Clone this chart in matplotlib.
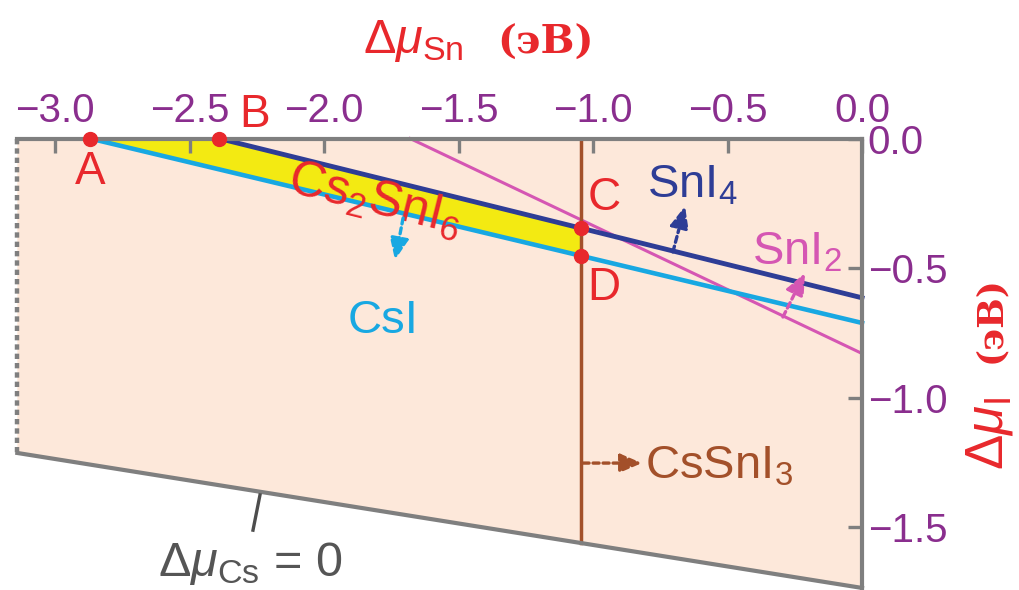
import numpy as np
import matplotlib
matplotlib.use("Agg")
from matplotlib import pyplot as plt

plt.rcParams['font.family'] = ['Liberation Sans', 'DejaVu Sans']
plt.rcParams['mathtext.fontset'] = 'custom'
plt.rcParams['mathtext.rm'] = 'Liberation Sans'
plt.rcParams['mathtext.it'] = 'Liberation Sans:italic'

# chemical potential data (eV)
x_left = -3.14
snI4_x = [-2.39, 0.0]
snI4_y = [0.0, -0.615]
csI_x = [-2.87, 0.0]
csI_y = [0.0, -0.712]
snI2_x = [-1.68, 0.0]
snI2_y = [0.0, -0.83]
csSnI3_x = -1.045
cs0_x = [-3.14, 0.0]          # delta mu_Cs = 0 boundary
cs0_y = [-1.214, -1.735]
pts_name = ["A", "B", "C", "D"]
pts_x = [-2.87, -2.39, -1.045, -1.045]
pts_y = [0.0, 0.0, -0.346, -0.453]
xticks = [-3.0, -2.5, -2.0, -1.5, -1.0, -0.5, 0.0]
yticks = [0.0, -0.5, -1.0, -1.5]

peach = "#FDE8DA"
yellow = "#F3EA12"
dblue = "#2E3D96"
lblue = "#18A8E2"
pink = "#D556B3"
brown = "#A3502A"
red = "#E8282C"
purple = "#8A2E8E"
gray = "#7F7F7F"

fig = plt.figure(figsize=(10.19, 5.9), dpi=100)
ax = fig.add_axes([0, 0, 1, 1])
ax.set_xlim(-3.2045, 0.5836)
ax.set_ylim(-1.743, 0.5347)
ax.patch.set_visible(False)

# stability region background
ax.fill([x_left, 0.0, 0.0, x_left], [0.0, 0.0, cs0_y[1], cs0_y[0]],
        color=peach, lw=0, zorder=0)

# Cs2SnI6 single-phase region
fx = np.array([csI_x[0], snI4_x[0], csSnI3_x])
upper = np.minimum(0.0, np.interp(fx, snI4_x, snI4_y))
lower = np.interp(fx, csI_x, csI_y)
ax.fill_between(fx, lower, upper, color=yellow, lw=0, zorder=1)

ax.plot(snI2_x, snI2_y, color=pink, lw=2.2, zorder=2)
ax.plot(csI_x, csI_y, color=lblue, lw=3.3, zorder=2)
ax.plot(snI4_x, snI4_y, color=dblue, lw=3.5, zorder=2.1)
bottom_brown = np.interp(csSnI3_x, cs0_x, cs0_y)
ax.plot([csSnI3_x, csSnI3_x], [0.0, bottom_brown], color=brown, lw=2.5, zorder=2)
ax.plot(cs0_x, cs0_y, color=gray, lw=3, zorder=2)
ax.plot([x_left, x_left], [0.0, cs0_y[0]], color=gray, lw=3.2,
        ls=(0, (1.2, 0.9)), zorder=2)

ax.plot(pts_x, pts_y, "o", color=red, ms=10, zorder=4)

# axes (top and right)
for s in ["left", "bottom"]:
    ax.spines[s].set_visible(False)
ax.spines["top"].set_position(("data", 0.0))
ax.spines["top"].set_bounds(x_left, 0.0)
ax.spines["right"].set_position(("data", 0.0))
ax.spines["right"].set_bounds(-1.75, 0.0)
for s in ["top", "right"]:
    ax.spines[s].set_color(gray)
    ax.spines[s].set_linewidth(3)
    ax.spines[s].set_zorder(3)
ax.xaxis.set_ticks_position("top")
ax.yaxis.set_ticks_position("right")
ax.set_xticks(xticks)
ax.set_yticks(yticks)
ax.set_xticklabels([f"{v:.1f}".replace("-", "\u2212") for v in xticks])
ax.set_yticklabels([f"{v:.1f}".replace("-", "\u2212") for v in yticks])
ax.tick_params(axis="x", direction="in", length=10, width=2.4, color=gray,
               labelcolor=purple, labelsize=29, pad=6)
ax.tick_params(axis="y", direction="in", length=10, width=2.4, color=gray,
               labelcolor=purple, labelsize=29, pad=4)

# axis titles
ax.text(-1.669, 0.375, r"$\Delta\mu_{\mathrm{Sn}}$", color=red, fontsize=35,
        ha="center", va="center")
ax.text(-1.175, 0.37, "(эВ)", color=red, fontsize=29, family="DejaVu Serif",
        weight="bold", ha="center", va="center")
ax.text(0.475, -1.14, r"$\Delta\mu_{\mathrm{I}}$", color=red, fontsize=38,
        rotation=90, ha="center", va="center")
ax.text(0.475, -0.70, "(эВ)", color=red, fontsize=26, family="DejaVu Serif",
        weight="bold", rotation=90, ha="center", va="center")

# point labels
ax.text(-2.87, -0.13, "A", color=red, fontsize=33, ha="center", va="center")
ax.text(-2.26, 0.09, "B", color=red, fontsize=33, ha="center", va="center")
ax.text(-0.959, -0.23, "C", color=red, fontsize=33, ha="center", va="center")
ax.text(-0.959, -0.577, "D", color=red, fontsize=33, ha="center", va="center")

# phase labels
ax.text(-1.81, -0.237, r"Cs$_2$SnI$_6$", color=red, fontsize=36,
        rotation=-14, ha="center", va="center", rotation_mode="anchor")
ax.text(-0.80, -0.226, r"SnI$_4$", color=dblue, fontsize=34)
ax.text(-0.41, -0.488, r"SnI$_2$", color=pink, fontsize=34)
ax.text(-1.911, -0.751, "CsI", color=lblue, fontsize=34)
ax.text(-0.807, -1.311, r"CsSnI$_3$", color=brown, fontsize=34)

# dashed arrows pointing to competing phases
arrows = [((-1.706, -0.307), (-1.736, -0.469), lblue),
          ((-0.703, -0.438), (-0.658, -0.261), dblue),
          ((-0.294, -0.689), (-0.212, -0.519), pink),
          ((-1.037, -1.253), (-0.818, -1.253), brown)]
for start, end, c in arrows:
    ax.annotate("", xy=end, xytext=start, zorder=3,
                arrowprops=dict(arrowstyle="-|>,head_length=0.65,head_width=0.28",
                                mutation_scale=20, color=c, lw=2.4,
                                ls=(0, (1.8, 1.2)), shrinkA=0, shrinkB=0))

# delta mu_Cs = 0 marker
ax.plot([-2.238, -2.264], [-1.376, -1.512], color="#4D4D4D", lw=2.4)
ax.text(-2.275, -1.64, r"$\Delta\mu_{\mathrm{Cs}}$ = 0", color="#555555",
        fontsize=35, ha="center", va="center")

fig.savefig("out.png", dpi=100)
